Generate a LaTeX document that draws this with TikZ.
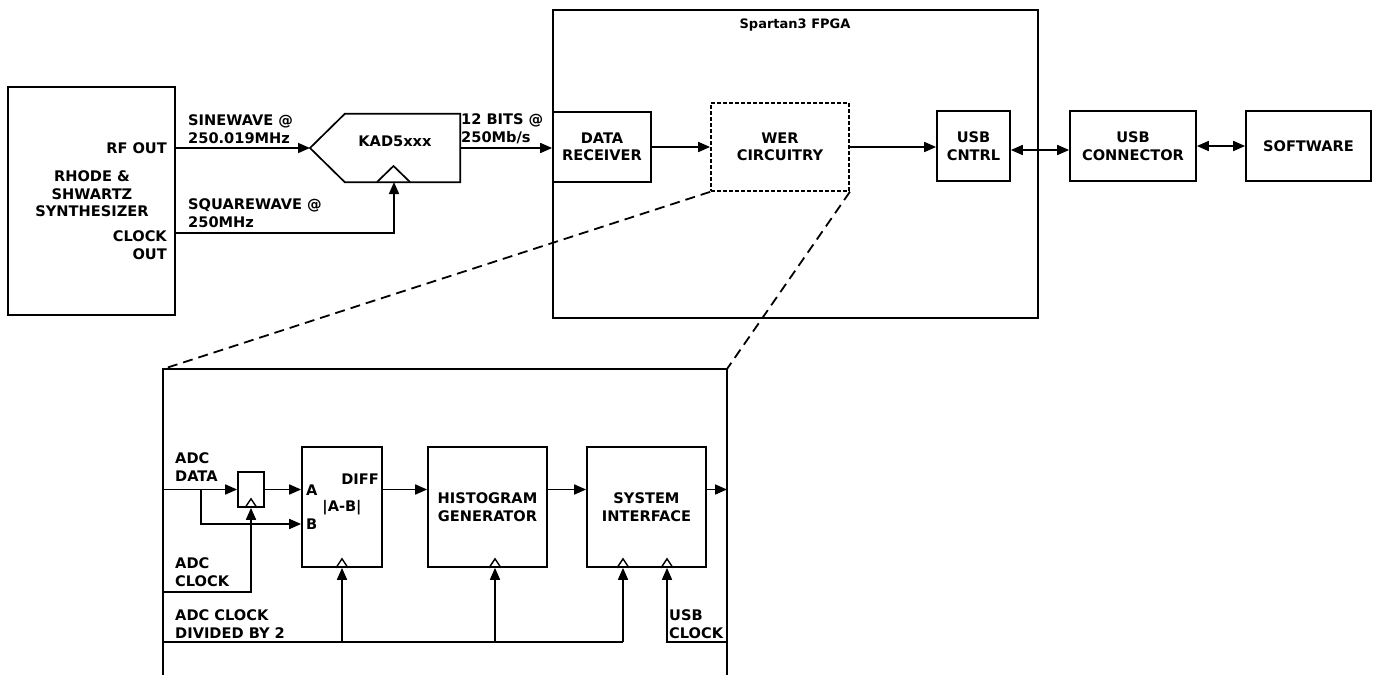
\documentclass[tikz,border=0pt]{standalone}
\usepackage{fontspec}
\setmainfont{DejaVu Sans}
\usetikzlibrary{arrows.meta,positioning}

\newcommand\lblfont{\bfseries\fontsize{14.6}{17.5}\selectfont}
\tikzset{
  blk/.style 2 args={draw,line width=1.7pt,minimum width=#1,minimum height=#2,
    inner sep=0pt,align=center,font=\lblfont},
  lbl/.style={inner sep=0pt,font=\lblfont},
  wire/.style={line width=1.7pt},
  sig/.style={line width=1.7pt,-{Triangle[length=12pt,width=10pt]}},
  bisig/.style={line width=1.7pt,{Triangle[length=12pt,width=10pt]}-{Triangle[length=12pt,width=10pt]}},
  zoomline/.style={line width=1.8pt,dash pattern=on 10pt off 6pt},
  clktri/.pic={\draw[line width=1.4pt] (-6,0) -- (0,-9) -- (6,0);}
}

\begin{document}
\begin{tikzpicture}[x=1pt,y=-1pt]
\path[use as bounding box,fill=white] (0,0) rectangle (1377,675);

% signal source
\node[blk={167pt}{228pt}] (synth) at (91.5,201) {};
\node[lbl,align=center] (synthlbl) at (92,194) {RHODE \&\\SHWARTZ\\SYNTHESIZER};
\node[lbl,anchor=east] (rfoutlbl) at (167,148) {RF OUT};
\node[lbl,anchor=east,align=right] (clkoutlbl) at (167,245) {CLOCK\\OUT};
\coordinate (rfout) at (175,148);
\coordinate (clkout) at (175,233);

% ADC
\node[minimum width=115pt,minimum height=68pt,inner sep=0pt] (kad) at (402.5,148) {};
\coordinate (kadin) at (310,148);
\coordinate (kadclk) at (394,182);
\draw[wire] (kad.north east) -- (kad.north west) -- (kadin) -- (kad.south west) -- (kad.south east) -- cycle;
\draw[wire] (377,182) -- (393.5,166) -- (410,182);
\node[lbl] (kadlbl) at (395,141) {KAD5xxx};

\draw[sig] (rfout) -- (kadin);
\draw[sig] (clkout) -| (kadclk);
\node[lbl,anchor=west,align=left] (sinelbl) at (188,129) {SINEWAVE @\\250.019MHz};
\node[lbl,anchor=west,align=left] (sqlbl) at (188,213) {SQUAREWAVE @\\250MHz};
\node[lbl,anchor=west,align=left] (bitslbl) at (461,129) {12 BITS @\\250Mb/s};

% FPGA
\node[blk={485pt}{308pt}] (fpga) at (795.5,164) {};
\node[lbl,font=\bfseries\fontsize{13}{15}\selectfont] (fpgalbl) at (795,25) {Spartan3 FPGA};
\node[blk={98pt}{70pt}] (rcv) at (602,147) {DATA\\RECEIVER};
\node[blk={138pt}{88pt},dash pattern=on 4pt off 2pt] (wer) at (780,147) {WER\\CIRCUITRY};
\node[blk={73pt}{70pt}] (cntrl) at (973.5,146) {USB\\CNTRL};
\node[blk={126pt}{70pt}] (conn) at (1133,146) {USB\\CONNECTOR};
\node[blk={125pt}{70pt}] (soft) at (1308.5,146) {SOFTWARE};

\draw[sig] (kad.east) -- (kad.east -| rcv.west);
\draw[sig] (rcv.east) -- (rcv.east -| wer.west);
\draw[sig] (wer.east) -- (wer.east -| cntrl.west);
\draw[bisig] ([yshift=-4pt]cntrl.east) -- ([yshift=-4pt]cntrl.east -| conn.west);
\draw[bisig] (conn.east) -- (soft.west);

% zoomed WER circuitry
\draw[wire] (163,675) coordinate (zbl) -- (163,369) coordinate (ztl)
  -- (727,369) coordinate (ztr) -- (727,675) coordinate (zbr);
\draw[zoomline] (wer.south west) -- (ztl);
\draw[zoomline] (wer.south east) -- (ztr);

\node[blk={26pt}{35pt}] (reg) at (251,489.5) {};
\pic at (reg.south) {clktri};
\node[blk={80pt}{120pt}] (absd) at (342,507) {};
\pic at (absd.south) {clktri};
\node[lbl,anchor=west] (alab) at (306,490) {A};
\node[lbl,anchor=west] (blab) at (306,524) {B};
\node[lbl,anchor=east] (difflab) at (379,479) {DIFF};
\node[lbl] (abslab) at (342,508) {|A-B|};
\node[blk={119pt}{120pt}] (hist) at (487.5,507) {HISTOGRAM\\GENERATOR};
\node[blk={119pt}{120pt}] (sysif) at (646.5,507) {SYSTEM\\INTERFACE};
\coordinate (hclk) at ([xshift=7.5pt]hist.south);
\coordinate (sclka) at ([xshift=-23.5pt]sysif.south);
\coordinate (sclkb) at ([xshift=20.5pt]sysif.south);
\pic at (hclk) {clktri};
\pic at (sclka) {clktri};
\pic at (sclkb) {clktri};

\coordinate (adcdata) at (163,489.5);
\coordinate (tap) at (201,489.5);
\coordinate (adcclk) at (163,592);
\coordinate (div) at (163,642);
\coordinate (usbclk) at (727,642);

\draw[sig] (adcdata) -- (adcdata -| reg.west);
\draw[sig] (tap) |- (absd.west |- blab);
\draw[sig] (reg.east |- adcdata) -- (absd.west |- adcdata);
\draw[sig] (adcclk) -| (reg.south);
\draw[sig] (absd.east |- adcdata) -- (hist.west |- adcdata);
\draw[sig] (hist.east |- adcdata) -- (sysif.west |- adcdata);
\draw[sig] (sysif.east |- adcdata) -- (ztr |- adcdata);
\draw[wire] (div) -- (sclka |- div);
\draw[sig] (absd.south |- div) -- (absd.south);
\draw[sig] (hclk |- div) -- (hclk);
\draw[sig] (sclka |- div) -- (sclka);
\draw[sig] (usbclk) -| (sclkb);

\node[lbl,anchor=west,align=left] (adcdatalbl) at (175,467) {ADC\\DATA};
\node[lbl,anchor=west,align=left] (adcclklbl) at (175,572) {ADC\\CLOCK};
\node[lbl,anchor=west,align=left] (divlbl) at (175,624) {ADC CLOCK\\DIVIDED BY 2};
\node[lbl,anchor=west,align=left] (usbclklbl) at (669,624) {USB\\CLOCK};
\end{tikzpicture}
\end{document}
